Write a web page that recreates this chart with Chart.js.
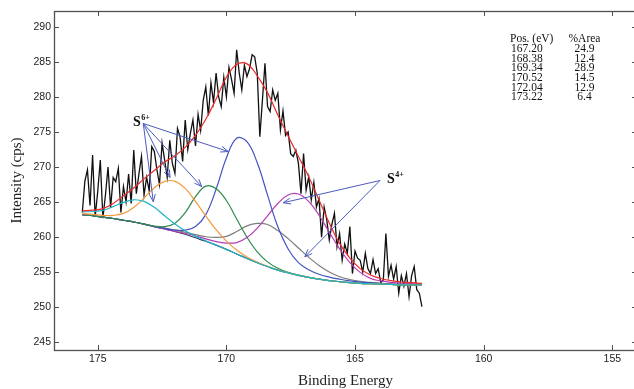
<!DOCTYPE html>
<html>
<head>
<meta charset="utf-8">
<title>S 2p fit</title>
<script src="https://cdn.jsdelivr.net/npm/chart.js@4.4.1/dist/chart.umd.min.js"></script>
<style>
  html, body { margin: 0; padding: 0; background: #fff; overflow: hidden; }
  #wrap { width: 634px; height: 389px; overflow: hidden; }
  canvas { display: block; }
</style>
</head>
<body>
<div id="wrap"><canvas id="xps" width="640" height="389"></canvas></div>
<script>
// raw counts, 0.1 eV steps starting at 175.6 eV
const rawStart = 175.6;
const rawStep = 0.1;
const rawCounts = [
  263.5, 268.0, 269.6, 264.5, 271.7, 262.9, 266.5, 271.0, 262.7, 266.0,
  270.0, 264.2, 268.5, 267.9, 269.8, 263.5, 267.2, 265.0, 269.0, 264.8,
  272.4, 266.2, 269.0, 271.5, 266.0, 268.5, 266.6, 272.9, 272.2, 269.6,
  267.5, 273.4, 271.0, 268.5, 273.8, 270.5, 269.1, 275.5, 274.3, 270.8,
  276.7, 272.5, 274.8, 276.7, 273.0, 277.5, 275.2, 279.5, 281.4, 277.3,
  282.0, 279.2, 283.4, 280.0, 278.6, 282.8, 280.0, 284.2, 282.5, 280.5,
  286.7, 283.4, 281.0, 284.5, 282.9, 284.0, 286.0, 285.7, 283.4, 274.3,
  279.5, 284.8, 278.6, 277.9, 281.0, 279.5, 280.5, 275.3, 278.0, 274.5,
  275.0, 271.9, 271.5, 272.4, 270.5, 266.2, 271.9, 266.7, 268.6, 265.3,
  267.8, 264.3, 265.5, 260.0, 264.3, 262.5, 259.6, 261.8, 263.4, 258.6,
  260.5, 256.7, 259.0, 257.7, 261.5, 254.8, 258.0, 257.0, 256.7, 255.0,
  257.7, 255.5, 254.8, 256.8, 254.8, 255.5, 253.5, 253.9, 260.5, 254.4,
  256.0, 254.0, 255.8, 252.0, 254.5, 253.0, 254.8, 251.5, 254.5, 255.8,
  252.5, 252.0, 250.1
];

// fitted curves sampled on this energy grid
const fitEnergy = [175.6, 175.2, 174.8, 174.4, 174.0, 173.6, 173.2, 172.8, 172.4, 172.0,
  171.6, 171.2, 170.8, 170.4, 170.0, 169.6, 169.2, 168.8, 168.4, 168.0,
  167.6, 167.2, 166.8, 166.4, 166.0, 165.6, 165.2, 164.8, 164.4, 164.0,
  163.6, 163.2, 162.8, 162.4];

const background = [263.2, 263.05, 262.85, 262.65, 262.4, 262.15, 261.85, 261.5, 261.15, 260.8,
  260.4, 259.9, 259.4, 258.85, 258.25, 257.6, 256.95, 256.35, 255.8, 255.3,
  254.9, 254.55, 254.25, 254.0, 253.8, 253.65, 253.5, 253.4, 253.35, 253.3,
  253.25, 253.2, 253.2, 253.15];

const envelope = [263.75, 263.85, 264.05, 264.8, 265.9, 267.0, 268.3, 269.5, 270.7, 271.6,
  272.8, 274.5, 276.8, 279.7, 282.8, 284.6, 284.7, 283.0, 280.6, 277.4,
  274.4, 271.5, 268.6, 265.3, 262.0, 259.1, 257.0, 255.5, 254.6, 254.1,
  253.8, 253.6, 253.5, 253.4];

const peak17322 = [263.6, 263.65, 263.8, 264.35, 264.95, 265.32, 265.1, 264.24, 263.04, 261.87,
  260.9, 260.1, 259.46, 258.87, 258.25, 257.6, 256.95, 256.35, 255.8, 255.3,
  254.9, 254.55, 254.25, 254.0, 253.8, 253.65, 253.5, 253.4, 253.35, 253.3,
  253.25, 253.2, 253.2, 253.15];

const peak17204 = [263.35, 263.25, 263.1, 263.1, 263.38, 264.23, 265.56, 267.03, 267.95, 267.95,
  266.94, 265.08, 263.01, 261.05, 259.42, 258.15, 257.17, 256.43, 255.83, 255.3,
  254.9, 254.55, 254.25, 254.0, 253.8, 253.65, 253.5, 253.4, 253.35, 253.3,
  253.25, 253.2, 253.2, 253.15];

const peak17052 = [263.2, 263.05, 262.85, 262.65, 262.4, 262.15, 261.85, 261.57, 261.48, 261.98,
  263.49, 265.76, 267.27, 266.88, 265.22, 262.59, 259.98, 257.9, 256.47, 255.55,
  254.98, 254.57, 254.25, 254.0, 253.8, 253.65, 253.5, 253.4, 253.35, 253.3,
  253.25, 253.2, 253.2, 253.15];

const peak16934 = [263.2, 263.05, 262.85, 262.65, 262.4, 262.15, 261.85, 261.5, 261.25, 261.0,
  261.0, 261.5, 263.2, 266.82, 271.29, 274.1, 273.6, 270.6, 265.99, 261.47,
  258.3, 256.35, 255.35, 254.7, 254.3, 254.0, 253.75, 253.58, 253.47, 253.38,
  253.3, 253.23, 253.23, 253.18];

const peak16838 = [263.2, 263.05, 262.85, 262.65, 262.4, 262.15, 261.85, 261.5, 261.3, 261.0,
  260.7, 260.35, 260.05, 259.95, 260.11, 260.79, 261.6, 261.95, 261.8, 260.93,
  259.78, 258.45, 257.12, 255.95, 255.02, 254.35, 253.95, 253.68, 253.53, 253.42,
  253.33, 253.25, 253.24, 253.18];

const peak16720 = [263.2, 263.05, 262.85, 262.65, 262.4, 262.15, 261.85, 261.5, 261.15, 260.8,
  260.55, 260.15, 259.75, 259.35, 259.15, 259.22, 259.93, 261.27, 263.03, 264.79,
  266.0, 266.14, 265.09, 263.12, 260.69, 258.33, 256.36, 254.97, 254.12, 253.75,
  253.55, 253.42, 253.38, 253.3];

const xTicks = [175, 170, 165, 160, 155];
const yTicks = [245, 250, 255, 260, 265, 270, 275, 280, 285, 290];

// table in the upper right
const tablePos = ['167.20', '168.38', '169.34', '170.52', '172.04', '173.22'];
const tableArea = ['24.9', '12.4', '28.9', '14.5', '12.9', '6.4'];

// arrow annotations, in data units (eV, cps)
const s6Label = [173.63, 275.85];
const s6From = [173.23, 276.2];
const s6To = [[172.84, 265.05], [172.19, 268.5], [170.96, 267.2], [169.93, 272.2]];
const s4Label = [163.76, 267.7];
const s4From = [164.03, 268.07];
const s4To = [[167.79, 264.9], [166.95, 257.2]];

const arrowColor = '#4b5bbf';

function toPoints(xs, ys) {
  return ys.map((v, i) => ({ x: xs[i], y: v }));
}

const rawPoints = rawCounts.map((v, i) => ({ x: +(rawStart - i * rawStep).toFixed(2), y: v }));

function fitSet(data, color) {
  return {
    data: toPoints(fitEnergy, data),
    borderColor: color,
    borderWidth: 1.2,
    tension: 0.4,
    pointRadius: 0,
    fill: false
  };
}

function arrow(ctx, x0, y0, x1, y1) {
  const a = Math.atan2(y1 - y0, x1 - x0);
  const len = 8;
  ctx.beginPath();
  ctx.moveTo(x0, y0);
  ctx.lineTo(x1, y1);
  ctx.moveTo(x1 - len * Math.cos(a - 0.38), y1 - len * Math.sin(a - 0.38));
  ctx.lineTo(x1, y1);
  ctx.lineTo(x1 - len * Math.cos(a + 0.38), y1 - len * Math.sin(a + 0.38));
  ctx.stroke();
}

function ionLabel(ctx, x, y, sup) {
  ctx.fillStyle = '#111';
  ctx.textAlign = 'left';
  ctx.textBaseline = 'alphabetic';
  ctx.font = 'bold 14px "Liberation Serif"';
  ctx.fillText('S', x, y);
  const w = ctx.measureText('S').width;
  ctx.font = 'bold 8px "Liberation Serif"';
  ctx.fillText(sup, x + w + 0.5, y - 6);
}

const frame = {
  id: 'frame',
  afterDatasetsDraw(chart) {
    const { ctx, chartArea: a, scales: { x, y } } = chart;
    ctx.save();

    // box with inward ticks, all four sides
    ctx.strokeStyle = '#505050';
    ctx.lineWidth = 1.3;
    ctx.strokeRect(a.left + 0.5, a.top + 0.5, a.right - a.left, a.bottom - a.top);
    ctx.lineWidth = 1;
    ctx.beginPath();
    xTicks.forEach(v => {
      const px = Math.round(x.getPixelForValue(v)) + 0.5;
      ctx.moveTo(px, a.bottom); ctx.lineTo(px, a.bottom - 5);
      ctx.moveTo(px, a.top); ctx.lineTo(px, a.top + 5);
    });
    yTicks.forEach(v => {
      const py = Math.round(y.getPixelForValue(v)) + 0.5;
      ctx.moveTo(a.left, py); ctx.lineTo(a.left + 5, py);
      ctx.moveTo(a.right, py); ctx.lineTo(a.right - 5, py);
    });
    ctx.stroke();

    // arrows
    ctx.strokeStyle = arrowColor;
    ctx.lineWidth = 1;
    const x6 = x.getPixelForValue(s6From[0]), y6 = y.getPixelForValue(s6From[1]);
    s6To.forEach(t => arrow(ctx, x6, y6, x.getPixelForValue(t[0]), y.getPixelForValue(t[1])));
    const x4 = x.getPixelForValue(s4From[0]), y4 = y.getPixelForValue(s4From[1]);
    s4To.forEach(t => arrow(ctx, x4, y4, x.getPixelForValue(t[0]), y.getPixelForValue(t[1])));

    ionLabel(ctx, x.getPixelForValue(s6Label[0]), y.getPixelForValue(s6Label[1]), '6+');
    ionLabel(ctx, x.getPixelForValue(s4Label[0]), y.getPixelForValue(s4Label[1]), '4+');

    // peak table
    ctx.fillStyle = '#111';
    ctx.font = '11.5px "Liberation Serif"';
    ctx.textBaseline = 'middle';
    const rowH = 9.65;
    const top = 39.3;
    ctx.textAlign = 'left';
    ctx.fillText('Pos. (eV)', 510, top);
    ctx.textAlign = 'center';
    ctx.fillText('%Area', 584.5, top);
    tablePos.forEach((p, i) => {
      ctx.textAlign = 'left';
      ctx.fillText(p, 511, top + rowH * (i + 1));
      ctx.textAlign = 'center';
      ctx.fillText(tableArea[i], 584.5, top + rowH * (i + 1));
    });

    ctx.restore();
  }
};

new Chart(document.getElementById('xps'), {
  type: 'line',
  data: {
    datasets: [
      fitSet(envelope, '#ee2b2b'),
      fitSet(peak17322, '#1fb5c4'),
      fitSet(peak17204, '#f39a3c'),
      fitSet(peak17052, '#2e8b4f'),
      fitSet(peak16934, '#4354c0'),
      fitSet(peak16838, '#7d7d7d'),
      fitSet(peak16720, '#b63db8'),
      fitSet(background, '#3b3560'),
      {
        data: rawPoints,
        borderColor: '#111',
        borderWidth: 1.3,
        tension: 0,
        pointRadius: 0,
        fill: false
      }
    ]
  },
  options: {
    responsive: false,
    animation: false,
    devicePixelRatio: 1,
    layout: { padding: { top: 11, right: 3, left: 0, bottom: 0 } },
    plugins: { legend: { display: false }, tooltip: { enabled: false } },
    scales: {
      x: {
        type: 'linear',
        reverse: true,
        min: 154.04,
        max: 176.70,
        afterBuildTicks: s => { s.ticks = xTicks.map(v => ({ value: v })); },
        afterFit: s => { s.height = 39; },
        grid: { display: false, drawTicks: false },
        border: { display: false },
        ticks: {
          padding: 3,
          autoSkip: false,
          maxRotation: 0,
          color: '#222',
          font: { family: 'Liberation Sans', size: 10.5 }
        },
        title: {
          display: true,
          text: 'Binding Energy',
          color: '#222',
          font: { family: 'Liberation Serif', size: 15, lineHeight: 1 },
          padding: { top: 0, bottom: 0 }
        }
      },
      y: {
        type: 'linear',
        min: 243.9,
        max: 292.24,
        afterBuildTicks: s => { s.ticks = yTicks.map(v => ({ value: v })); },
        afterFit: s => { s.width = 54; },
        grid: { display: false, drawTicks: false },
        border: { display: false },
        ticks: {
          padding: 3,
          color: '#222',
          font: { family: 'Liberation Sans', size: 10.5 }
        },
        title: {
          display: true,
          text: 'Intensity (cps)',
          color: '#222',
          font: { family: 'Liberation Serif', size: 15, lineHeight: 1 },
          padding: { top: 9.5, bottom: 0 }
        }
      }
    }
  },
  plugins: [frame]
});
</script>
</body>
</html>
